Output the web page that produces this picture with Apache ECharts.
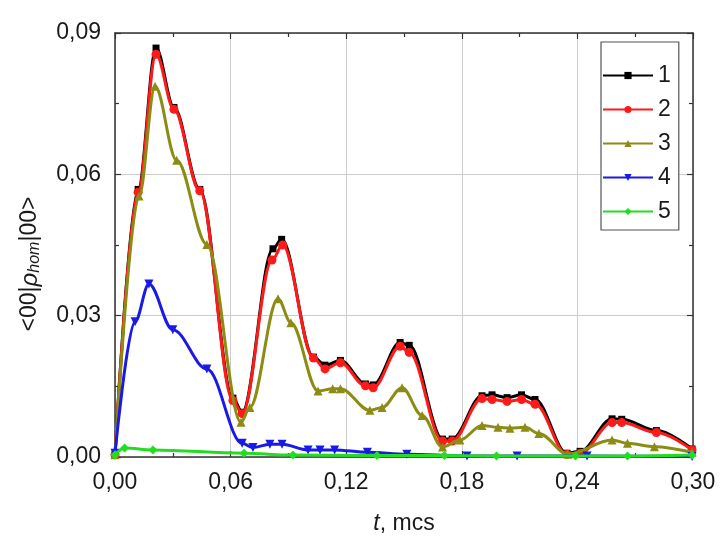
<!DOCTYPE html>
<html>
<head>
<meta charset="utf-8">
<script src="https://cdn.jsdelivr.net/npm/echarts@6/dist/echarts.min.js"></script>
<style>html,body{margin:0;padding:0;background:#fff}#c{width:722px;height:540px}</style>
</head>
<body>
<div id="c"></div>
<script>
// ---- data ----
const seriesNames = ['1', '2', '3', '4', '5'];
const xTicks = [0, 0.06, 0.12, 0.18, 0.24, 0.30];
const yTicks = [0, 0.03, 0.06, 0.09];

const t1 = [0, 0.012, 0.0213, 0.0306, 0.044, 0.0612, 0.066, 0.082, 0.0865, 0.103, 0.109, 0.117, 0.130, 0.134, 0.148, 0.1527, 0.170, 0.175, 0.1905, 0.1957, 0.2035, 0.211, 0.218, 0.2346, 0.2414, 0.258, 0.263, 0.281, 0.2995];
const v1 = [0.0005, 0.0568, 0.0868, 0.0742, 0.0568, 0.0125, 0.0095, 0.0442, 0.0462, 0.0212, 0.0195, 0.0205, 0.0155, 0.0153, 0.0243, 0.0237, 0.0038, 0.0038, 0.0130, 0.0132, 0.0126, 0.0132, 0.0122, 0.0008, 0.0012, 0.0081, 0.0080, 0.0056, 0.0017];

const t2 = [0, 0.012, 0.0213, 0.0306, 0.044, 0.0612, 0.066, 0.0815, 0.087, 0.103, 0.109, 0.117, 0.130, 0.134, 0.148, 0.1527, 0.170, 0.175, 0.1905, 0.1957, 0.2035, 0.211, 0.218, 0.2346, 0.2414, 0.258, 0.263, 0.281, 0.2995];
const v2 = [0.0005, 0.0562, 0.0855, 0.0738, 0.0565, 0.0120, 0.0092, 0.0418, 0.0450, 0.0210, 0.0187, 0.0200, 0.0151, 0.0147, 0.0235, 0.0222, 0.0034, 0.0034, 0.0124, 0.0122, 0.0118, 0.0122, 0.0112, 0.0006, 0.0008, 0.0073, 0.0073, 0.0052, 0.0015];

const t3 = [0, 0.0125, 0.0208, 0.032, 0.0477, 0.0654, 0.070, 0.0846, 0.0913, 0.1054, 0.113, 0.117, 0.1323, 0.1386, 0.149, 0.1594, 0.170, 0.179, 0.1905, 0.1988, 0.205, 0.2128, 0.220, 0.235, 0.258, 0.266, 0.280, 0.2995];
const v3 = [0.0005, 0.0554, 0.0787, 0.0630, 0.0451, 0.0074, 0.0105, 0.0336, 0.0285, 0.0140, 0.0145, 0.0145, 0.0099, 0.0105, 0.0147, 0.0088, 0.0021, 0.0036, 0.0067, 0.0063, 0.0061, 0.0063, 0.0050, 0.0006, 0.0036, 0.0029, 0.0022, 0.0010];

const t4 = [0, 0.0104, 0.0176, 0.030, 0.0477, 0.066, 0.0716, 0.0804, 0.0867, 0.1002, 0.1064, 0.114, 0.131, 0.1515, 0.1827, 0.2087, 0.245, 0.2995];
const v4 = [0.0008, 0.0287, 0.0367, 0.0270, 0.0187, 0.0029, 0.0020, 0.0027, 0.0027, 0.0015, 0.0015, 0.0015, 0.0010, 0.0006, 0.0002, 0.0002, 0.0002, 0.0001];

const t5 = [0, 0.005, 0.0197, 0.067, 0.0924, 0.136, 0.171, 0.198, 0.239, 0.266, 0.2995];
const v5 = [0.0005, 0.0019, 0.0015, 0.0008, 0.0004, 0.0003, 0.0003, 0.0002, 0.0002, 0.0002, 0.0004];

// ---- chart ----
const colors = ['#000000', '#ff1a1a', '#8c8c14', '#1a1ae6', '#22dd22'];
const symbols = ['rect', 'circle', 'triangle', 'path://M0,0 L10,0 L5,10 Z', 'diamond'];
const sizes = [7, 9, 9, 9, 9];
const ts = [t1, t2, t3, t4, t5];
const vs = [v1, v2, v3, v4, v5];

const fmt = v => v.toFixed(2).replace('.', ',');
const font = 'Liberation Sans, Arial, sans-serif';
const txt = '#1a1a1a';
const FS = 23;

const series = seriesNames.map((n, i) => ({
  name: n,
  type: 'line',
  data: ts[i].map((t, k) => [t, vs[i][k]]),
  smooth: 0.35,
  smoothMonotone: 'x',
  symbol: symbols[i],
  symbolSize: sizes[i],
  showSymbol: true,
  lineStyle: { color: colors[i], width: 3 },
  itemStyle: { color: colors[i] },
  z: 2 + i
}));

const frameAxis = {
  axisLine: { show: true, onZero: false, lineStyle: { color: '#333', width: 1.5 } },
  axisTick: { show: true, inside: true, length: 6, lineStyle: { color: '#333', width: 1.2 } },
  minorTick: { show: true, splitNumber: 2, length: 4, lineStyle: { color: '#333', width: 1.2 } }
};

const chart = echarts.init(document.getElementById('c'), null, { renderer: 'canvas' });
chart.setOption({
  animation: false,
  backgroundColor: '#ffffff',
  grid: { left: 115, right: 29, top: 33, bottom: 78, containLabel: false },
  legend: {
    orient: 'vertical',
    left: 601,
    top: 42,
    data: seriesNames,
    itemWidth: 50,
    itemHeight: 9,
    itemGap: 11,
    padding: [22, 8, 7, 1],
    borderColor: '#555',
    borderWidth: 1.2,
    backgroundColor: '#fff',
    textStyle: { fontSize: FS, fontFamily: font, color: txt, lineHeight: 22 }
  },
  graphic: [{
    type: 'text',
    x: 30, y: 264,
    rotation: Math.PI / 2,
    style: {
      text: '<00|{g|ρ}{s|hom}|00>',
      fontSize: FS, fontFamily: font, fill: txt,
      align: 'center', verticalAlign: 'middle',
      rich: {
        g: { fontStyle: 'italic', fontSize: FS + 1, fontFamily: font, fill: txt },
        s: { fontStyle: 'italic', fontSize: 16, fontFamily: font, fill: txt, padding: [10, 0, 0, 0] }
      }
    }
  }],
  xAxis: [Object.assign({
    type: 'value', min: 0, max: 0.30, interval: 0.06,
    name: '{i|t}, mcs', nameLocation: 'middle', nameGap: 55,
    nameTextStyle: { fontSize: FS, fontFamily: font, color: txt, rich: { i: { fontStyle: 'italic', fontSize: FS, fontFamily: font, color: txt } } },
    axisLabel: { formatter: fmt, fontSize: FS, fontFamily: font, color: txt, margin: 14, showMinLabel: true, showMaxLabel: true },
    splitLine: { show: true, lineStyle: { color: '#cccccc', width: 1 } }
  }, frameAxis), Object.assign({
    type: 'value', position: 'top', min: 0, max: 0.30, interval: 0.06,
    axisLabel: { show: false }, splitLine: { show: false }
  }, frameAxis)],
  yAxis: [Object.assign({
    type: 'value', min: 0, max: 0.09, interval: 0.03,
    axisLabel: { formatter: fmt, fontSize: FS, fontFamily: font, color: txt, margin: 14 },
    splitLine: { show: true, lineStyle: { color: '#cccccc', width: 1 } }
  }, frameAxis), Object.assign({
    type: 'value', position: 'right', min: 0, max: 0.09, interval: 0.03,
    axisLabel: { show: false }, splitLine: { show: false }
  }, frameAxis)],
  series: series
});
</script>
</body>
</html>
